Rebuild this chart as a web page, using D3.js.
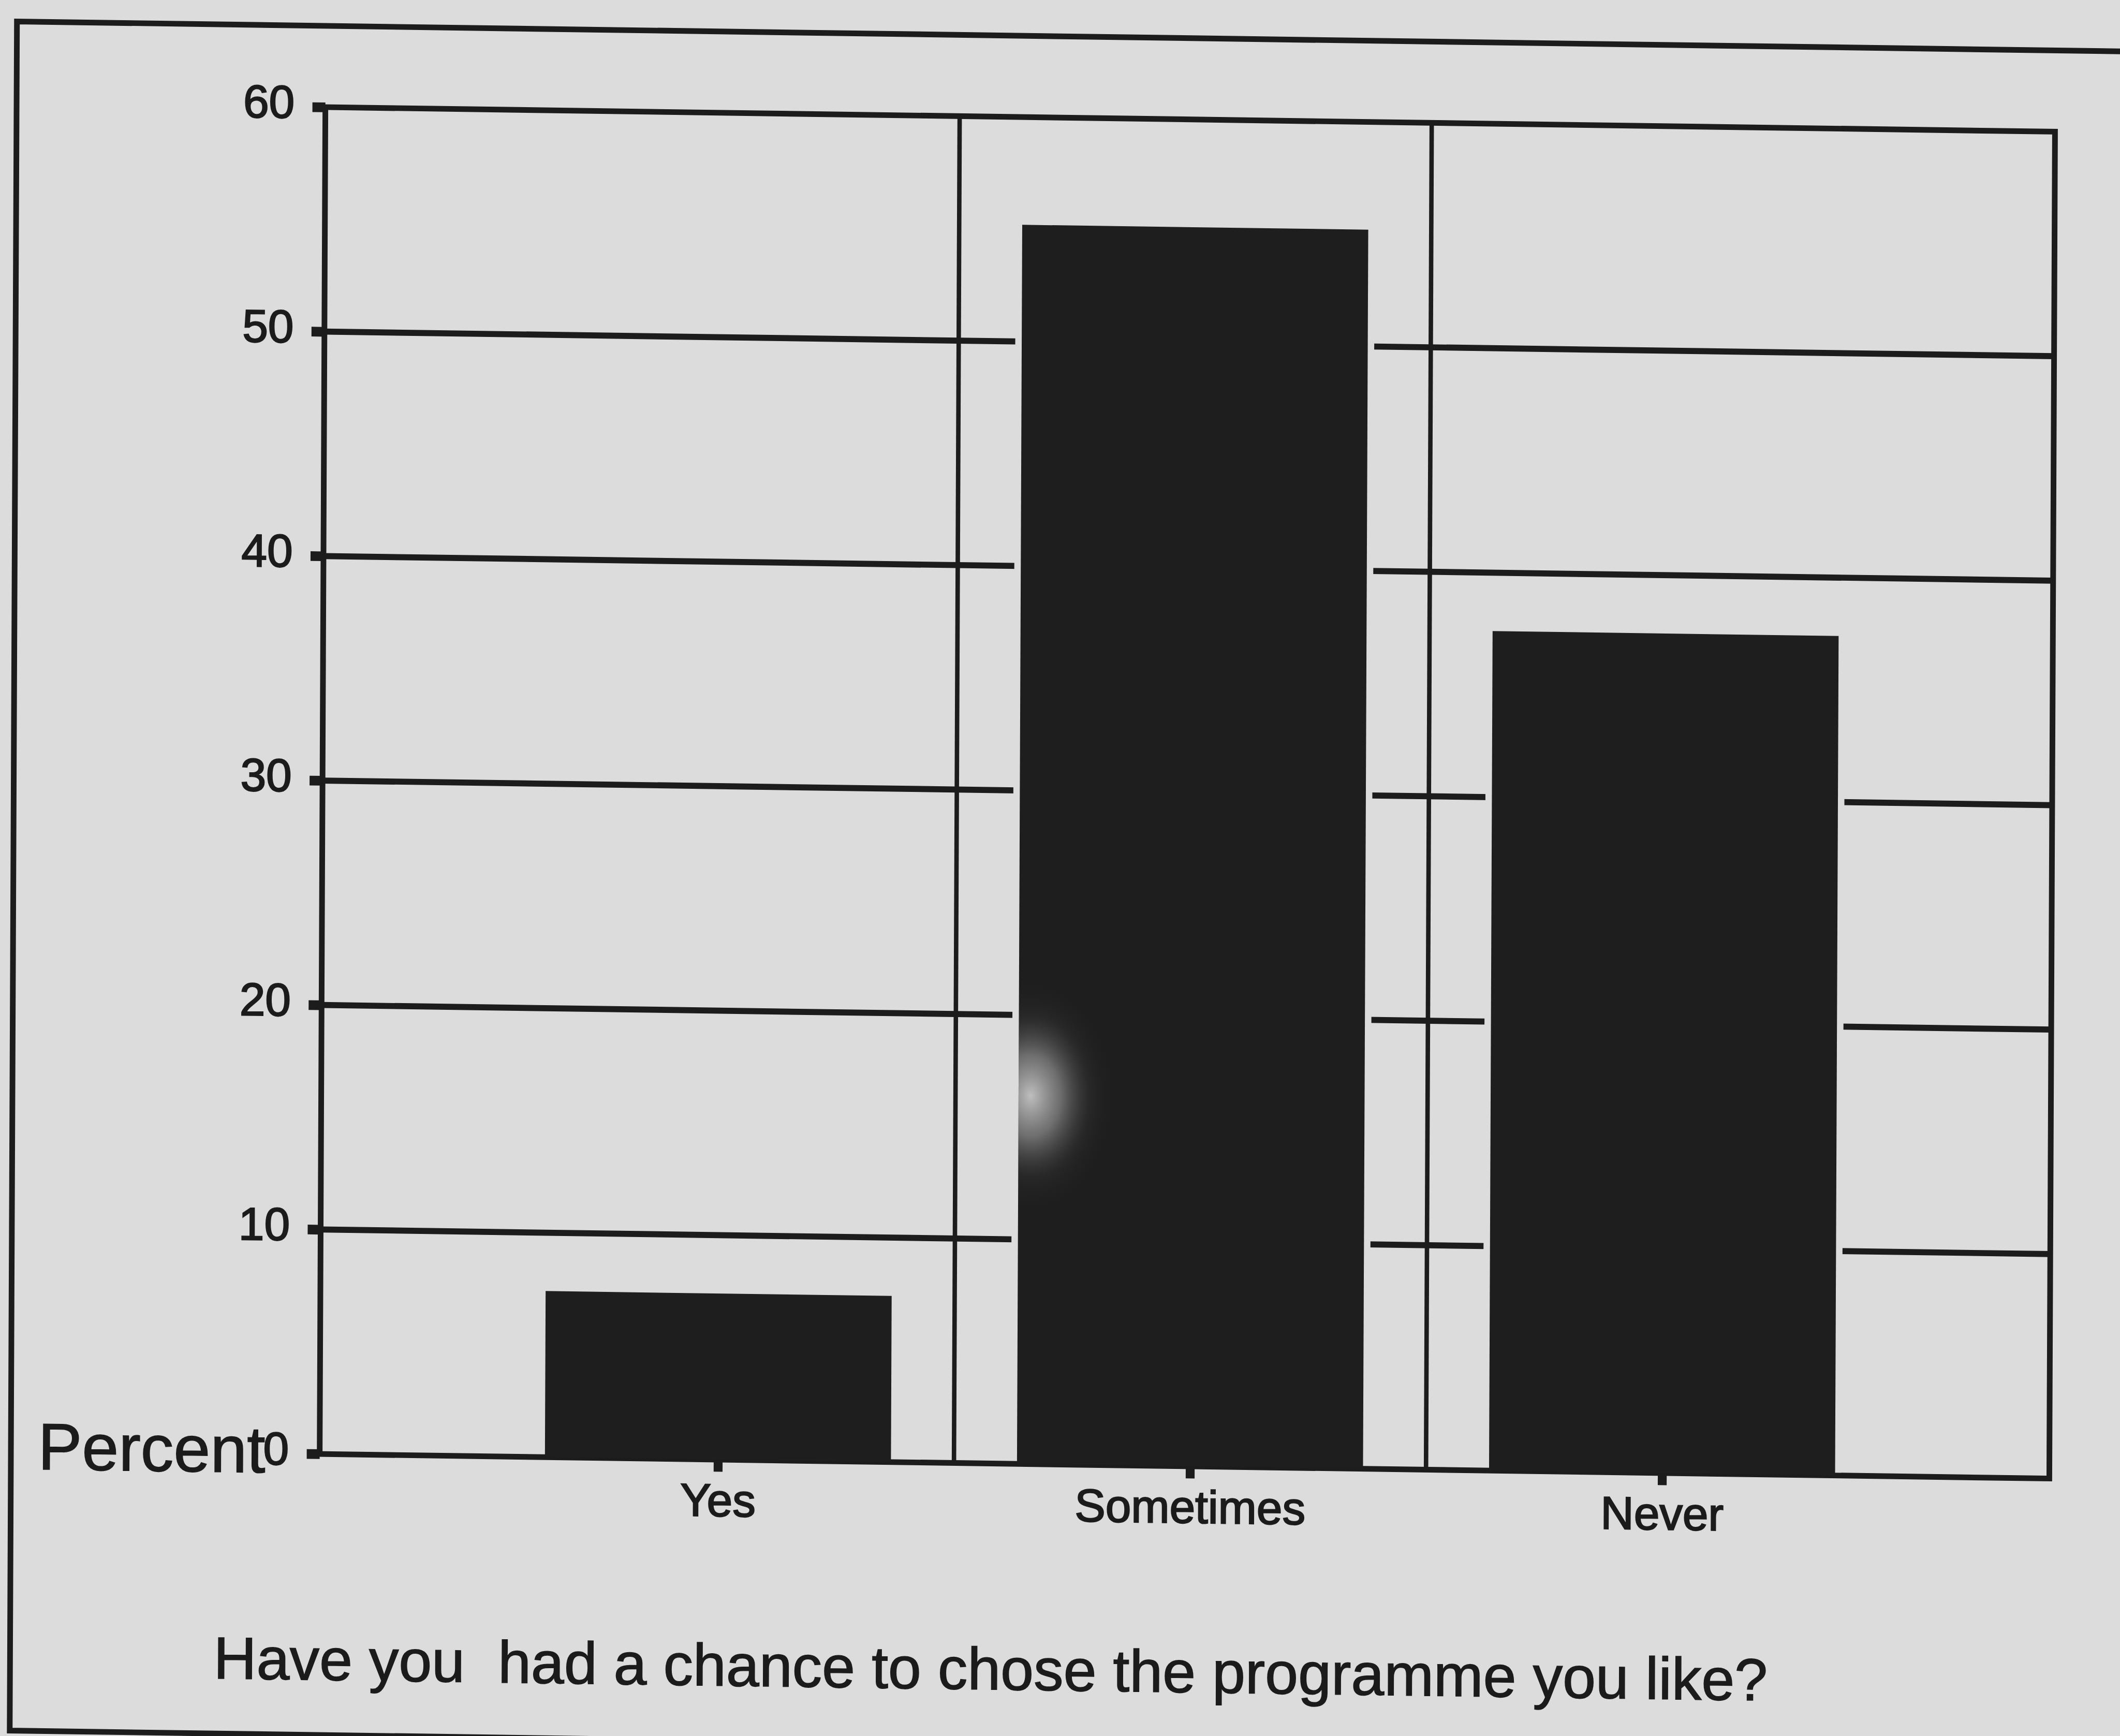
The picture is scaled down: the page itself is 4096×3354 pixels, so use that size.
<!DOCTYPE html>
<html>
<head>
<meta charset="utf-8">
<script src="https://cdn.jsdelivr.net/npm/d3@7/dist/d3.min.js"></script>
<style>
  html, body { margin: 0; padding: 0; background: #dcdcdc; }
  svg { display: block; }
  text { font-family: "Liberation Sans", Arial, Helvetica, sans-serif; fill: #1b1b1b; }
</style>
</head>
<body>
<svg id="chart" width="4096" height="3354"></svg>
<script>
// Survey answers (percent of respondents)
const categories = ["Yes", "Sometimes", "Never"];
const percents = [7.4, 55.2, 37.4];
const yTicks = [0, 10, 20, 30, 40, 50, 60];
const yTitle = "Percent";
const xTitle = "Have you  had a chance to chose the programme you like?";

// Page is laid out on a 5219 x 4274 sheet and scaled to the window.
const PAGE_W = 5219;
const scale = 4096 / PAGE_W;
const paper = "#dcdcdc";
const ink = "#1c1c1c";

const plot = { left: 793, right: 5067, top: 256, bottom: 3587 };

const svg = d3.select("#chart");
svg.append("rect").attr("width", 4096).attr("height", 3354).attr("fill", paper);

// Sheet is slightly skewed on the page
const root = svg.append("g").attr("transform", `scale(${scale})`)
  .append("g")
  .attr("transform", "matrix(0.996256,0.014155,-0.004203,0.995347,12.045,-2.284)");

const y = d3.scaleLinear().domain([0, 60]).range([plot.bottom, plot.top]);
const x = d3.scalePoint().domain(categories).range([plot.left, plot.right])
  .padding(0.832).align(0.507);
const barW = x.step() * 0.733;
const data = categories.map((c, i) => ({ c, v: percents[i] }));

// Outer box around the whole figure
root.append("path")
  .attr("d", "M5400,55 L30,55 L30,4282 L5400,4282")
  .attr("fill", "none").attr("stroke", ink).attr("stroke-width", 14);

// Horizontal gridlines
root.append("g").selectAll("line")
  .data(yTicks.filter(t => t > 0 && t < 60))
  .join("line")
  .attr("x1", plot.left).attr("x2", plot.right)
  .attr("y1", d => y(d)).attr("y2", d => y(d))
  .attr("stroke", ink).attr("stroke-width", 15);

// Paper-coloured margin that breaks gridlines around each bar
root.append("g").selectAll("rect")
  .data(data)
  .join("rect")
  .attr("x", d => x(d.c) - barW / 2 - 16)
  .attr("y", d => y(d.v) - 16)
  .attr("width", barW + 32)
  .attr("height", d => y(0) - y(d.v) + 16)
  .attr("fill", paper);

// Vertical separators between categories
root.append("g").selectAll("line")
  .data(d3.pairs(categories))
  .join("line")
  .attr("x1", d => (x(d[0]) + x(d[1])) / 2)
  .attr("x2", d => (x(d[0]) + x(d[1])) / 2)
  .attr("y1", plot.top).attr("y2", plot.bottom)
  .attr("stroke", ink).attr("stroke-width", 11);

// Plot frame
root.append("rect")
  .attr("x", plot.left).attr("y", plot.top)
  .attr("width", plot.right - plot.left).attr("height", plot.bottom - plot.top)
  .attr("fill", "none").attr("stroke", ink).attr("stroke-width", 14);

// Y axis
const yAxis = root.append("g")
  .attr("transform", `translate(${plot.left},0)`)
  .call(d3.axisLeft(y).tickValues(yTicks).tickSize(32).tickPadding(44));
yAxis.select(".domain").remove();
yAxis.selectAll(".tick line").attr("stroke", ink).attr("stroke-width", 24);
yAxis.selectAll(".tick text")
  .attr("font-size", 114).attr("dy", "0.24em").attr("fill", ink)
  .attr("stroke", ink).attr("stroke-width", 3);

// X axis
const xAxis = root.append("g")
  .attr("transform", `translate(0,${plot.bottom})`)
  .call(d3.axisBottom(x).tickSize(30).tickPadding(29));
xAxis.select(".domain").remove();
xAxis.selectAll(".tick line").attr("stroke", ink).attr("stroke-width", 22);
xAxis.selectAll(".tick text").attr("font-size", 114).attr("fill", ink)
  .attr("stroke", ink).attr("stroke-width", 3);

// Bars
root.append("g").selectAll("rect")
  .data(data)
  .join("rect")
  .attr("x", d => x(d.c) - barW / 2)
  .attr("y", d => y(d.v))
  .attr("width", barW)
  .attr("height", d => y(0) - y(d.v))
  .attr("fill", "#1e1e1e");

// Soft light haze on the tall bar
const defs = svg.append("defs");
const grad = defs.append("radialGradient").attr("id", "glare");
grad.append("stop").attr("offset", "0%").attr("stop-color", "#e6e6e6").attr("stop-opacity", 0.8);
grad.append("stop").attr("offset", "35%").attr("stop-color", "#bdbdbd").attr("stop-opacity", 0.5);
grad.append("stop").attr("offset", "70%").attr("stop-color", "#5a5a5a").attr("stop-opacity", 0.15);
grad.append("stop").attr("offset", "100%").attr("stop-color", "#1e1e1e").attr("stop-opacity", 0);
const tall = data[1];
defs.append("clipPath").attr("id", "tallClip")
  .append("rect")
  .attr("x", x(tall.c) - barW / 2).attr("y", y(tall.v))
  .attr("width", barW).attr("height", y(0) - y(tall.v));
root.append("ellipse")
  .attr("cx", x(tall.c) - barW / 2 + 30).attr("cy", y(16.4))
  .attr("rx", 210).attr("ry", 290)
  .attr("fill", "url(#glare)")
  .attr("clip-path", "url(#tallClip)");

// Axis titles
root.append("text")
  .attr("x", 97).attr("y", 3635)
  .attr("font-size", 163)
  .attr("stroke", ink).attr("stroke-width", 2)
  .text(yTitle);

root.append("text")
  .attr("x", 533).attr("y", 4146)
  .attr("font-size", 147)
  .attr("stroke", ink).attr("stroke-width", 2)
  .style("white-space", "pre")
  .text(xTitle);
</script>
</body>
</html>
